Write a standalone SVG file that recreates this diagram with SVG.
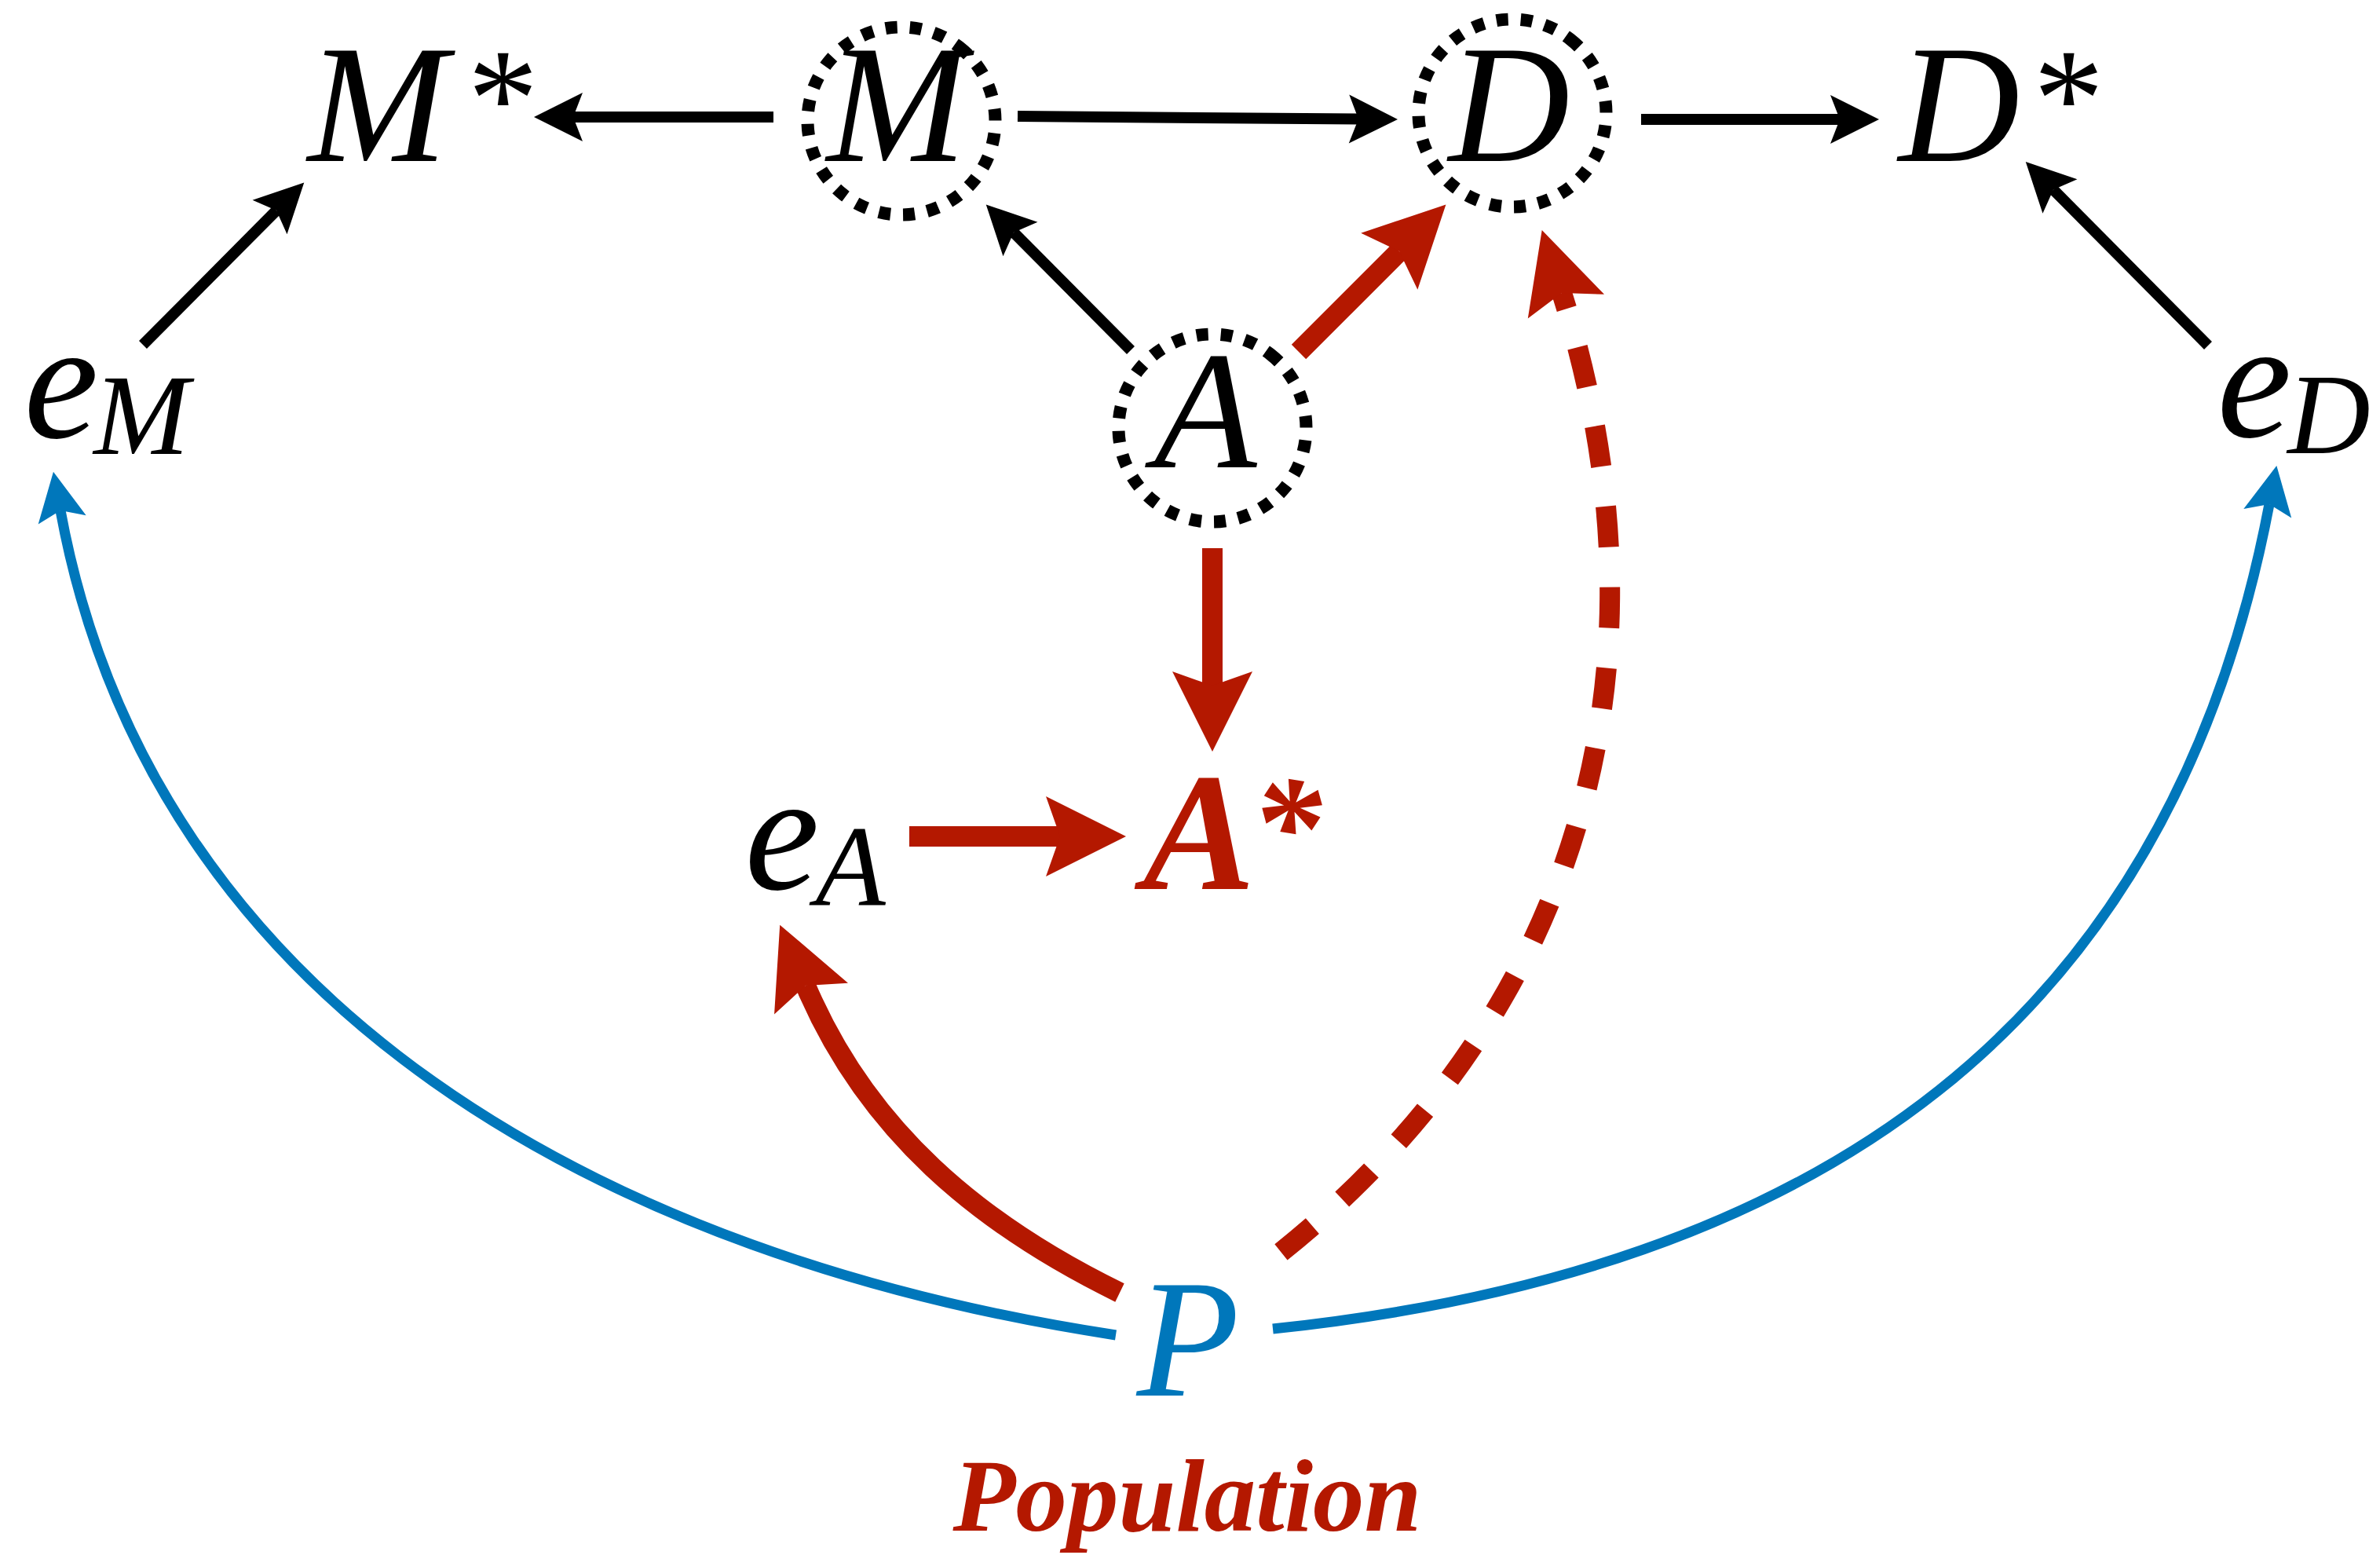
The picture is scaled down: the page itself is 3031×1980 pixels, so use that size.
<svg xmlns="http://www.w3.org/2000/svg" width="3031" height="1980" viewBox="0 0 3031 1980">
<style>
text{font-family:'Liberation Serif','Times New Roman',serif;font-style:italic;text-anchor:middle}
.t{font-size:214px;fill:#000}
.sub{font-size:146px}
.star{font-size:180px}
.red{fill:#B41800}
.blue{fill:#0077BB}
.bold{font-weight:bold}
.ring{fill:none;stroke:#000;stroke-width:16;stroke-dasharray:15 16}
.k{fill:none;stroke:#000;stroke-width:14}
.r{fill:none;stroke:#B41800;stroke-width:26}
.b{fill:none;stroke:#0077BB;stroke-width:13}
</style>
<defs>
<marker id="ahK" markerUnits="userSpaceOnUse" orient="auto" refX="0" refY="0" markerWidth="10" markerHeight="10" overflow="visible"><path d="M50,0 L-12,-31 L0,0 L-12,31 Z" fill="#000"/></marker>
<marker id="ahB" markerUnits="userSpaceOnUse" orient="auto" refX="0" refY="0" markerWidth="10" markerHeight="10" overflow="visible"><path d="M50,0 L-12,-31 L0,0 L-12,31 Z" fill="#0077BB"/></marker>
<marker id="ahR" markerUnits="userSpaceOnUse" orient="auto" refX="0" refY="0" markerWidth="10" markerHeight="10" overflow="visible"><path d="M84,0 L-18,-51 L0,0 L-18,51 Z" fill="#B41800"/></marker>
<marker id="ahRs" markerUnits="userSpaceOnUse" orient="auto-start-reverse" refX="0" refY="0" markerWidth="10" markerHeight="10" overflow="visible"><path d="M84,0 L-18,-51 L0,0 L-18,51 Z" fill="#B41800"/></marker>
</defs>
<rect width="3031" height="1980" fill="#fff"/>
<g id="connectors">
<path class="k" d="M985,149 L730,149" marker-end="url(#ahK)"/>
<path class="k" d="M182,439 L352,268" marker-end="url(#ahK)"/>
<path class="k" d="M1440,446 L1291,296" marker-end="url(#ahK)"/>
<path class="k" d="M1296,148 L1730,151.6" marker-end="url(#ahK)"/>
<path class="k" d="M2090,152 L2343,152" marker-end="url(#ahK)"/>
<path class="k" d="M2812,440 L2615,241.5" marker-end="url(#ahK)"/>
<path class="r" d="M1654,448 L1782,320" marker-end="url(#ahR)"/>
<path class="r" d="M1544,698 L1544,873" marker-end="url(#ahR)"/>
<path class="r" d="M1158,1065 L1350,1065" marker-end="url(#ahR)"/>
<path class="r" d="M1426,1646 C1246,1558 1104,1439 1026,1255" marker-end="url(#ahR)"/>
<path class="r" d="M1989,373 C2139,848 2015,1308 1597,1621" stroke-dasharray="52 51" stroke-dashoffset="31" marker-start="url(#ahRs)"/>
<path class="b" d="M1421,1700 C778,1602 194,1287 77,650" marker-end="url(#ahB)"/>
<path class="b" d="M1621,1692 C2317,1619 2764,1305 2890,642" marker-end="url(#ahB)"/>
</g>
<g id="node-Mstar"><text class="t" x="481" y="205">M</text><text class="t star" x="632" y="186">*</text></g>
<g id="node-M"><circle class="ring" cx="1148" cy="154" r="119.5" transform="rotate(-52 1148 154)"/><text class="t" x="1142" y="205">M</text></g>
<g id="node-D"><circle class="ring" cx="1926" cy="144" r="119.5" transform="rotate(-52 1926 144)"/><text class="t" x="1922" y="205">D</text></g>
<g id="node-Dstar"><text class="t" x="2495" y="205">D</text><text class="t star" x="2626" y="186">*</text></g>
<g id="node-eM"><text class="t" x="78" y="557">e</text><text class="t sub" x="180" y="578">M</text></g>
<g id="node-A"><circle class="ring" cx="1544" cy="545" r="119.5" transform="rotate(-52 1544 545)"/><text class="t" x="1535" y="595">A</text></g>
<g id="node-eD"><text class="t" x="2871" y="556">e</text><text class="t sub" x="2966" y="577">D</text></g>
<g id="node-eA"><text class="t" x="996" y="1132">e</text><text class="t sub" x="1083" y="1152">A</text></g>
<g id="node-Astar"><text class="t red bold" x="1527" y="1132">A</text><text class="t star red bold" x="1638" y="1112">*</text></g>
<g id="node-P"><text class="t blue" x="1513" y="1777">P</text></g>
<g id="label-population"><text class="t red bold" style="font-size:131px" x="1512" y="1949">Population</text></g>
</svg>
